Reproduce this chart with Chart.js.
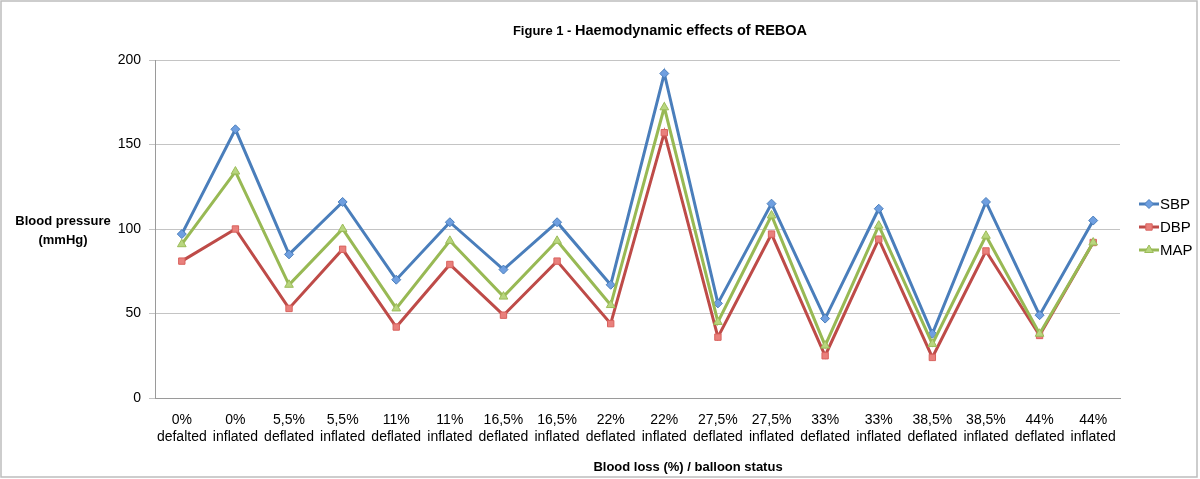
<!DOCTYPE html>
<html>
<head>
<meta charset="utf-8">
<script src="https://cdn.jsdelivr.net/npm/chart.js@4"></script>
<style>
html,body{margin:0;padding:0;background:#fff;}
#wrap{width:1200px;height:479px;position:relative;}
</style>
</head>
<body>
<div id="wrap"><canvas id="c" width="1200" height="479"></canvas></div>
<script>
const pctLabels = ["0%","0%","5,5%","5,5%","11%","11%","16,5%","16,5%","22%","22%","27,5%","27,5%","33%","33%","38,5%","38,5%","44%","44%"];
const statusLabels = ["defalted","inflated","deflated","inflated","deflated","inflated","deflated","inflated","deflated","inflated","deflated","inflated","deflated","inflated","deflated","inflated","deflated","inflated"];
const sbp = [97,159,85,116,70,104,76,104,67,192,56,115,47,112,38,116,49,105];
const dbp = [81,100,53,88,42,79,49,81,44,157,36,97,25,94,24,87,37,92];
const mapv = [91,134,67,100,53,93,60,93,55,172,45,108,31,102,32,96,38,92];
const yTicks = [0,50,100,150,200];
const titleA = "Figure 1 - ";
const titleB = "Haemodynamic effects of REBOA";
const yTitle = ["Blood pressure","(mmHg)"];
const xTitle = "Blood loss (%) / balloon status";
const seriesNames = ["SBP","DBP","MAP"];

const categories = pctLabels.map((p,i)=>[p,statusLabels[i]]);
const FONT = "'Liberation Sans', Arial, sans-serif";

const styles = [
  {line:'#4A7EBB', fill:'#6F9FE0', border:'#4A7EBB', shape:'rectRot', r:4.5},
  {line:'#BE4B48', fill:'#E9807C', border:'#D9625E', shape:'rect', r:4.5},
  {line:'#98B954', fill:'#B8D67E', border:'#9BBB59', shape:'triangle', r:5}
];
const allData = [sbp,dbp,mapv];

const deco = {
  id:'deco',
  afterDraw(chart){
    const ctx = chart.ctx;
    ctx.save();
    // outer border
    ctx.strokeStyle = '#BDBDBD';
    ctx.lineWidth = 1.5;
    ctx.strokeRect(1,1,1196,476);
    ctx.fillStyle = '#000';
    // title
    ctx.font = "bold 13px " + FONT;
    const wA = ctx.measureText(titleA).width;
    ctx.font = "bold 14.5px " + FONT;
    const wB = ctx.measureText(titleB).width;
    const x0 = 660 - (wA+wB)/2;
    ctx.textAlign = 'left';
    ctx.textBaseline = 'alphabetic';
    ctx.font = "bold 13px " + FONT;
    ctx.fillText(titleA, x0, 35);
    ctx.font = "bold 14.5px " + FONT;
    ctx.fillText(titleB, x0 + wA, 35);
    // y title
    ctx.textBaseline = 'middle';
    ctx.textAlign = 'center';
    ctx.font = "bold 13px " + FONT;
    ctx.fillText(yTitle[0], 63, 221);
    ctx.fillText(yTitle[1], 63, 240);
    // x title
    ctx.fillText(xTitle, 688, 467);
    // legend
    const ys = [204,227,250];
    ctx.textAlign = 'left';
    ctx.font = "15px " + FONT;
    seriesNames.forEach((n,i)=>{
      const s = styles[i];
      ctx.strokeStyle = s.line;
      ctx.lineWidth = 3;
      ctx.beginPath();
      ctx.moveTo(1139, ys[i]); ctx.lineTo(1159, ys[i]); ctx.stroke();
      ctx.fillStyle = s.fill;
      ctx.strokeStyle = s.border;
      ctx.lineWidth = 1;
      Chart.helpers.drawPoint(ctx, {pointStyle:s.shape, radius:s.r, borderWidth:1, rotation:0}, 1149, ys[i]);
      ctx.fillStyle = '#000';
      ctx.fillText(n, 1160, ys[i]+1);
    });
    ctx.restore();
  }
};

new Chart(document.getElementById('c'), {
  type:'line',
  data:{
    labels: categories,
    datasets: seriesNames.map((n,i)=>({
      label:n,
      data: allData[i],
      borderColor: styles[i].line,
      backgroundColor: styles[i].fill,
      pointBackgroundColor: styles[i].fill,
      pointBorderColor: styles[i].border,
      pointBorderWidth: 1,
      pointStyle: styles[i].shape,
      pointRadius: styles[i].r,
      borderWidth: 3,
      tension: 0,
      fill:false
    })).reverse()
  },
  options:{
    responsive:false,
    animation:false,
    devicePixelRatio:1,
    layout:{padding:{top:60,right:80,bottom:21,left:0}},
    plugins:{legend:{display:false}, title:{display:false}, tooltip:{enabled:false}},
    scales:{
      x:{
        offset:true,
        grid:{display:false, drawTicks:false},
        border:{display:true, color:'#9A9A9A', width:1},
        ticks:{autoSkip:false, maxRotation:0, minRotation:0, padding:13, color:'#000',
               font:{family:FONT, size:14, lineHeight:1.25}},
        afterFit(s){ s.height = 60; }
      },
      y:{
        min:0, max:200,
        afterBuildTicks(s){ s.ticks = yTicks.map(v=>({value:v})); },
        grid:{color:'#C4C4C4', lineWidth:1, tickLength:6, drawTicks:true},
        border:{display:true, color:'#9A9A9A', width:1},
        ticks:{padding:8, color:'#000', font:{family:FONT, size:14}},
        afterFit(s){ s.width = 155; }
      }
    }
  },
  plugins:[deco]
});
</script>
</body>
</html>
